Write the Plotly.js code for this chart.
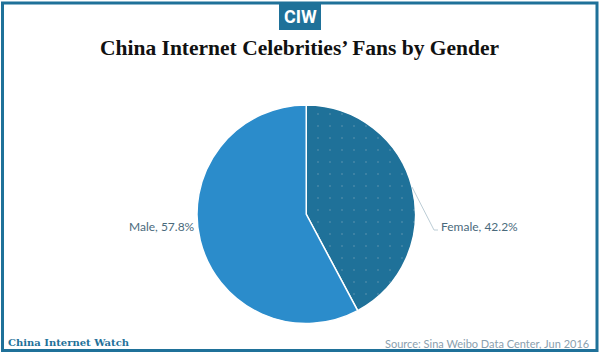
<!DOCTYPE html>
<html><head><meta charset="utf-8">
<script src="https://cdn.plot.ly/plotly-3.0.1.min.js"></script>
<style>html,body{margin:0;padding:0;background:#fff}#c{width:600px;height:354px}</style></head>
<body><div id="c"></div>
<script>
const labels = ['Female','Male'];
const values = [42.2,57.8];
const colors = ['#1f7199','#2b8ccb'];
const titleText = 'China Internet Celebrities’ Fans by Gender';
const logoText = 'CIW';
const brandText = 'China Internet Watch';
const sourceText = 'Source: Sina Weibo Data Center, Jun 2016';
const W=600,H=354;
const px=v=>v/W, py=v=>1-v/H;
const lab=(i)=>labels[i]+', '+values[i].toFixed(1)+'%';
const sans='"Lato","Open Sans",sans-serif';
const serif='"Liberation Serif","DejaVu Serif",serif';
const note=(x,y,xa,text,font)=>({xref:'paper',yref:'paper',x:px(x),y:py(y),xanchor:xa,yanchor:'middle',text:text,showarrow:false,font:font});
Plotly.newPlot('c',[{
 type:'pie',labels:labels,values:values,sort:false,direction:'clockwise',rotation:0,
 textinfo:'none',hoverinfo:'label+percent',showlegend:false,
 domain:{x:[px(197),px(415.5)],y:[py(323.5),py(105)]},
 marker:{colors:colors,line:{color:'#fff',width:1.5},
  pattern:{shape:['.',''],fgcolor:'#6f9db5',bgcolor:colors,size:12,solidity:0.01,fillmode:'replace'}}
}],{
 width:W,height:H,margin:{l:0,r:0,t:0,b:0},paper_bgcolor:'#fff',showlegend:false,
 shapes:[
  {type:'rect',xref:'paper',yref:'paper',x0:px(2.5),x1:px(597),y0:py(350.5),y1:py(3),line:{color:'#1f7199',width:3},fillcolor:'rgba(0,0,0,0)'},
  {type:'rect',xref:'paper',yref:'paper',x0:px(279),x1:px(321),y0:py(30),y1:py(3),line:{width:0},fillcolor:'#1f7199'},
  {type:'path',xref:'paper',yref:'paper',path:`M ${px(412)} ${py(187)} L ${px(434)} ${py(230)} L ${px(438)} ${py(230)}`,line:{color:'#bccdd6',width:1}}
 ],
 annotations:[
  note(300,17,'center','<b>'+logoText+'</b>',{family:'"Liberation Sans Narrow","Roboto",sans-serif',size:18,color:'#fff'}),
  note(300,48,'center','<b>'+titleText+'</b>',{family:serif,size:21.5,color:'#111'}),
  note(439,226,'left',lab(0),{family:sans,size:12,color:'#4a6a7c'}),
  note(197,226,'right',lab(1),{family:sans,size:12,color:'#4a6a7c'}),
  note(6,342,'left','<b>'+brandText+'</b>',{family:'"DejaVu Serif",serif',size:10,color:'#1f7199'}),
  note(591,343,'right',sourceText,{family:sans,size:11,color:'#8aa0ae'})
 ]
},{displayModeBar:false,staticPlot:true});
</script></body></html>
